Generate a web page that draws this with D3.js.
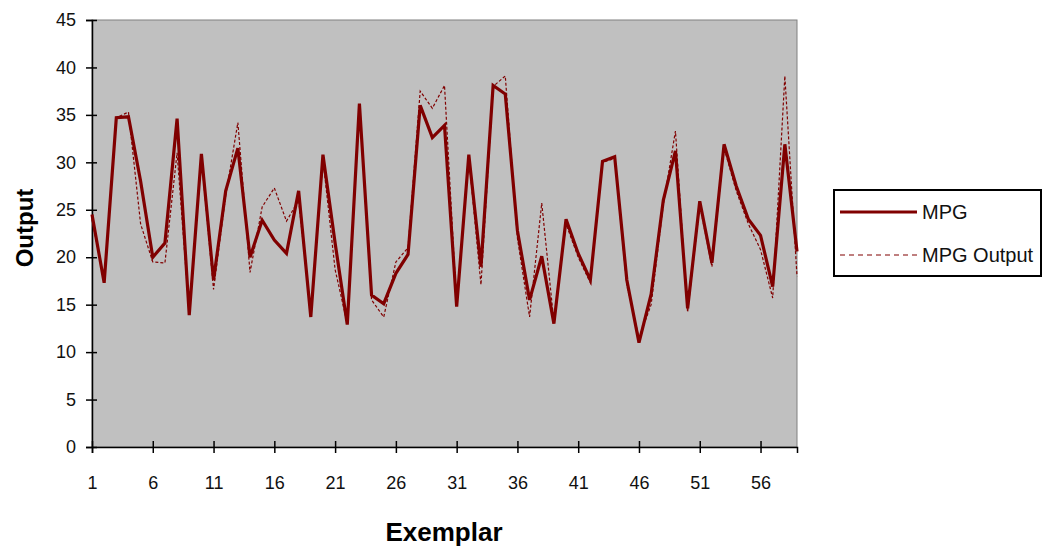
<!DOCTYPE html>
<html>
<head>
<meta charset="utf-8">
<script src="https://cdn.jsdelivr.net/npm/d3@7"></script>
<style>
  body { margin: 0; background: #fff; }
  svg { font-family: "Liberation Sans", Arial, sans-serif; }
</style>
</head>
<body>
<script>
  // exemplar numbers 1..59
  const exemplars = d3.range(1, 60);
  // actual MPG (solid line)
  const mpg = [24.5, 17.3, 34.7, 34.8, 28.0, 20.0, 21.5, 34.6, 13.9, 30.9,
               17.6, 27.0, 31.5, 20.0, 23.9, 21.8, 20.4, 27.0, 13.7, 30.8,
               21.5, 12.9, 36.2, 16.0, 15.1, 18.3, 20.3, 36.0, 32.6, 33.9,
               14.8, 30.8, 19.0, 38.1, 37.2, 22.8, 15.5, 20.1, 13.0, 24.0,
               20.4, 17.6, 30.1, 30.6, 17.6, 11.0, 16.1, 26.0, 31.2, 14.6,
               25.9, 19.4, 31.9, 27.5, 24.0, 22.3, 16.9, 31.9, 20.6];
  // network output (dashed line)
  const mpgOutput = [24.0, 17.5, 34.7, 35.3, 23.5, 19.5, 19.4, 31.0, 14.0, 30.5,
                     16.6, 26.5, 34.2, 18.4, 25.3, 27.3, 23.8, 26.0, 14.0, 30.3,
                     18.7, 13.0, 36.0, 15.5, 13.7, 19.5, 21.0, 37.5, 35.7, 38.1,
                     15.0, 30.5, 17.1, 38.0, 39.1, 22.0, 13.7, 25.7, 13.2, 23.5,
                     20.0, 17.3, 30.0, 30.4, 17.0, 11.5, 15.0, 25.5, 33.3, 14.2,
                     25.5, 19.0, 31.5, 27.0, 23.5, 20.8, 15.7, 39.1, 18.0];
  const xTicks = [1, 6, 11, 16, 21, 26, 31, 36, 41, 46, 51, 56];
  const yTicks = [0, 5, 10, 15, 20, 25, 30, 35, 40, 45];
  const seriesNames = ['MPG', 'MPG Output'];

  const W = 1043, H = 551;
  const plot = {left: 92, right: 797, top: 20, bottom: 447};
  const lineColor = '#800000';

  const svg = d3.select('body').append('svg')
    .attr('width', W)
    .attr('height', H);

  const x = d3.scaleLinear().domain([1, 59]).range([plot.left, plot.right]);
  const y = d3.scaleLinear().domain([0, 45]).range([plot.bottom, plot.top]);

  // plot background
  svg.append('rect')
    .attr('x', plot.left).attr('y', plot.top)
    .attr('width', plot.right - plot.left)
    .attr('height', plot.bottom - plot.top)
    .attr('fill', '#c0c0c0')
    .attr('stroke', '#808080')
    .attr('stroke-width', 1);

  // axes
  const yAxis = d3.axisLeft(y).tickValues(yTicks).tickSize(6).tickPadding(10);
  const gy = svg.append('g')
    .attr('transform', `translate(${plot.left},0)`)
    .call(yAxis);
  gy.selectAll('.tick line').attr('x1', 5).attr('stroke', '#000').attr('stroke-width', 1.5);
  gy.select('.domain').attr('stroke', '#000').attr('stroke-width', 1.5);
  gy.selectAll('text').attr('font-size', 18).attr('fill', '#111');

  const xAxis = d3.axisBottom(x).tickValues(xTicks).tickSize(6).tickPadding(23);
  const gx = svg.append('g')
    .attr('transform', `translate(0,${plot.bottom})`)
    .call(xAxis);
  gx.selectAll('.tick line').attr('y1', -6).attr('stroke', '#000').attr('stroke-width', 1.5);
  gx.select('.domain').attr('stroke', '#000').attr('stroke-width', 1.5);
  gx.selectAll('text').attr('font-size', 18).attr('fill', '#111');

  // series
  const line = d3.line()
    .x((d, i) => x(exemplars[i]))
    .y(d => y(d));

  svg.append('path')
    .datum(mpgOutput)
    .attr('d', line)
    .attr('fill', 'none')
    .attr('stroke', lineColor)
    .attr('stroke-width', 1.2)
    .attr('stroke-dasharray', '3,2');

  svg.append('path')
    .datum(mpg)
    .attr('d', line)
    .attr('fill', 'none')
    .attr('stroke', lineColor)
    .attr('stroke-width', 3.2);

  // axis titles
  svg.append('text')
    .attr('x', 444).attr('y', 541)
    .attr('text-anchor', 'middle')
    .attr('font-size', 26).attr('font-weight', 'bold')
    .text('Exemplar');

  svg.append('text')
    .attr('transform', 'translate(33,228) rotate(-90)')
    .attr('text-anchor', 'middle')
    .attr('font-size', 24).attr('font-weight', 'bold')
    .text('Output');

  // legend
  const legend = svg.append('g');
  legend.append('rect')
    .attr('x', 834).attr('y', 190)
    .attr('width', 207).attr('height', 86)
    .attr('fill', '#fff')
    .attr('stroke', '#000')
    .attr('stroke-width', 2);

  const legendItems = legend.selectAll('.item')
    .data(seriesNames)
    .enter().append('g')
    .attr('class', 'item')
    .attr('transform', (d, i) => `translate(0,${212 + i * 43})`);

  legendItems.append('line')
    .attr('x1', 840).attr('x2', 917)
    .attr('stroke', lineColor)
    .attr('stroke-width', (d, i) => i === 0 ? 3 : 1.2)
    .attr('stroke-dasharray', (d, i) => i === 0 ? null : '5,4');

  legendItems.append('text')
    .attr('x', 922).attr('y', 7)
    .attr('font-size', 20)
    .attr('fill', '#111')
    .text(d => d);
</script>
</body>
</html>
